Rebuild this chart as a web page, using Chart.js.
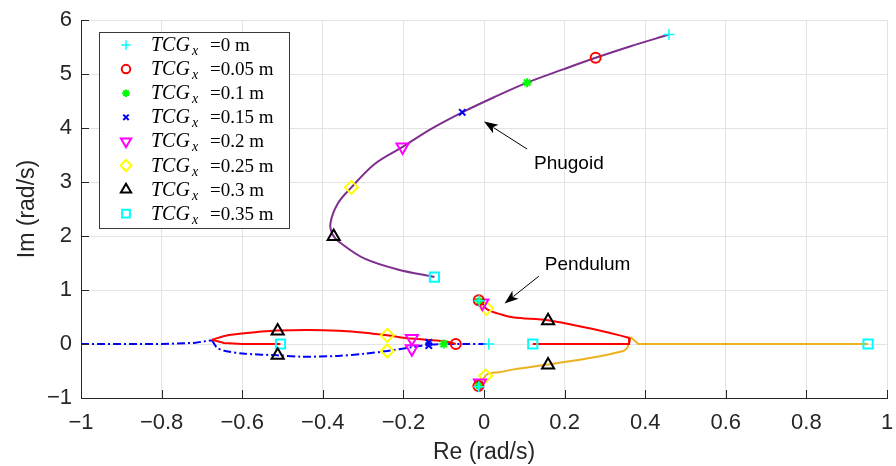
<!DOCTYPE html>
<html>
<head>
<meta charset="utf-8">
<script src="https://cdn.jsdelivr.net/npm/chart.js@4.4.0/dist/chart.umd.min.js"></script>
<style>
  html, body { margin: 0; padding: 0; background: #fff; }
  #wrap { width: 896px; height: 466px; position: relative; }
</style>
</head>
<body>
<div id="wrap"><canvas id="rootLocus"></canvas></div>
<script>
// TCG_x values shown in the legend
const tcgValues = ['0', '0.05', '0.1', '0.15', '0.2', '0.25', '0.3', '0.35'];

// poles marked for each TCG_x  [Re, Im]
const polesTcg000 = [[0.459, 5.73], [0.012, 0], [-0.012, 0.80], [-0.013, -0.79]];
const polesTcg005 = [[0.277, 5.30], [-0.070, 0], [-0.013, 0.81], [-0.014, -0.78]];
const polesTcg010 = [[0.107, 4.84], [-0.100, 0], [-0.011, 0.79], [-0.012, -0.77]];
const polesTcg015 = [[-0.054, 4.29], [-0.137, 0.03], [-0.137, -0.03], [-0.009, 0.78], [-0.011, -0.76]];
const polesTcg020 = [[-0.202, 3.65], [-0.179, 0.10], [-0.179, -0.09], [-0.004, 0.76], [-0.010, -0.72]];
const polesTcg025 = [[-0.329, 2.90], [-0.240, 0.16], [-0.240, -0.13], [0.006, 0.66], [0.004, -0.59]];
const polesTcg030 = [[-0.373, 1.99], [-0.512, 0.24], [-0.512, -0.21], [0.159, 0.43], [0.159, -0.39]];
const polesTcg035 = [[-0.123, 1.24], [-0.505, 0], [0.121, 0], [0.953, 0]];

// locus branches
const phugoid = [[0.459, 5.73], [0.362, 5.51], [0.277, 5.30], [0.198, 5.09], [0.107, 4.84], [0.025, 4.57],
  [-0.054, 4.29], [-0.132, 3.98], [-0.202, 3.65], [-0.272, 3.33], [-0.329, 2.90], [-0.362, 2.61],
  [-0.381, 2.24], [-0.375, 2.02], [-0.354, 1.86], [-0.296, 1.58], [-0.214, 1.38], [-0.123, 1.24]];
const redLeftArc = [[-0.070, 0], [-0.099, 0.05], [-0.181, 0.10], [-0.240, 0.16], [-0.296, 0.21],
  [-0.360, 0.245], [-0.436, 0.26], [-0.512, 0.25], [-0.552, 0.23], [-0.633, 0.165], [-0.675, 0.08]];
const redLeftReal = [[-0.675, 0.08], [-0.645, 0.02], [-0.600, 0], [-0.505, 0]];
const blueReal = [[-1, 0], [-0.80, 0], [-0.72, 0.02], [-0.675, 0.07]];
const blueArc = [[-0.675, 0.07], [-0.662, -0.07], [-0.642, -0.13], [-0.593, -0.18], [-0.512, -0.21],
  [-0.453, -0.235], [-0.362, -0.22], [-0.296, -0.18], [-0.240, -0.13], [-0.181, -0.06],
  [-0.132, -0.01], [-0.050, 0], [0.011, 0]];
const redPendArc = [[-0.012, 0.80], [0.008, 0.64], [0.041, 0.55], [0.074, 0.49], [0.159, 0.44],
  [0.255, 0.30], [0.337, 0.16], [0.362, 0.11]];
const redPendReal = [[0.362, 0.11], [0.360, 0], [0.121, 0]];
const orangePendArc = [[-0.013, -0.79], [0.008, -0.56], [0.041, -0.52], [0.074, -0.47], [0.159, -0.38],
  [0.255, -0.27], [0.346, -0.13], [0.356, -0.07]];
const orangePendReal = [[0.356, -0.07], [0.362, 0.10], [0.365, 0.12], [0.383, 0], [0.953, 0]];

// annotation anchors in data units
const phugoidArrow = { from: [0.107, 3.61], to: [0.0, 4.12], text: 'Phugoid', at: [0.124, 3.34] };
const pendulumArrow = { from: [0.136, 1.255], to: [0.051, 0.75], text: 'Pendulum', at: [0.151, 1.47] };

const poleSets = [polesTcg000, polesTcg005, polesTcg010, polesTcg015, polesTcg020, polesTcg025, polesTcg030, polesTcg035];

const markers = [
  { style: 'cross', color: '#00ffff', r: 5.5, w: 1.5 },
  { style: 'circle', color: '#ff0000', r: 5, w: 2 },
  { style: 'star', color: '#00ff00', r: 4.5, w: 2 },
  { style: 'crossRot', color: '#0000ff', r: 4.5, w: 2 },
  { style: 'triangle', color: '#ff00ff', r: 7, w: 2, rot: 180 },
  { style: 'rectRot', color: '#ffff00', r: 6.5, w: 2 },
  { style: 'triangle', color: '#000000', r: 7, w: 2 },
  { style: 'rect', color: '#00ffff', r: 6.5, w: 2 }
];

const sansFont = '"Liberation Sans", Arial, Helvetica, sans-serif';
const serifFont = '"Liberation Serif", "Times New Roman", serif';
const axisColor = '#262626';

const toXY = pts => pts.map(p => ({ x: p[0], y: p[1] }));

function branch(pts, color, tension, dash) {
  return {
    data: toXY(pts),
    showLine: true,
    pointRadius: 0,
    borderColor: color,
    borderWidth: 2,
    borderDash: dash || [],
    tension: tension,
    fill: false,
    order: 1
  };
}

const datasets = poleSets.map((pts, i) => ({
  label: 'TCG_x =' + tcgValues[i] + ' m',
  data: toXY(pts),
  showLine: false,
  pointStyle: markers[i].style,
  pointRadius: markers[i].r,
  pointRotation: markers[i].rot || 0,
  pointBorderColor: markers[i].color,
  pointBackgroundColor: 'rgba(0,0,0,0)',
  pointBorderWidth: markers[i].w,
  order: 0
}));

const dashDot = [8, 3, 2, 3];
datasets.push(
  branch(phugoid, '#7e2f8e', 0.35),
  branch(redLeftArc, '#ff0000', 0.3),
  branch(redLeftReal, '#ff0000', 0),
  branch(blueReal, '#0000ff', 0, dashDot),
  branch(blueArc, '#0000ff', 0.3, dashDot),
  branch(redPendArc, '#ff0000', 0.3),
  branch(redPendReal, '#ff0000', 0),
  branch(orangePendArc, '#edb120', 0.3),
  branch(orangePendReal, '#edb120', 0)
);

function fmtTick(v) {
  return (Math.round(v * 10) / 10).toString().replace('-', '\u2212');
}

function arrow(ctx, x1, y1, x2, y2) {
  const a = Math.atan2(y2 - y1, x2 - x1);
  const len = 14, half = 5;
  ctx.beginPath();
  ctx.moveTo(x1, y1);
  ctx.lineTo(x2 - Math.cos(a) * len * 0.8, y2 - Math.sin(a) * len * 0.8);
  ctx.stroke();
  ctx.beginPath();
  ctx.moveTo(x2, y2);
  ctx.lineTo(x2 - Math.cos(a) * len + Math.sin(a) * half, y2 - Math.sin(a) * len - Math.cos(a) * half);
  ctx.lineTo(x2 - Math.cos(a) * len * 0.75, y2 - Math.sin(a) * len * 0.75);
  ctx.lineTo(x2 - Math.cos(a) * len - Math.sin(a) * half, y2 - Math.sin(a) * len + Math.cos(a) * half);
  ctx.closePath();
  ctx.fill();
}

const extras = {
  id: 'extras',
  afterDraw(chart) {
    const ctx = chart.ctx;
    const xs = chart.scales.x, ys = chart.scales.y;
    const area = chart.chartArea;
    ctx.save();

    // inward ticks (matlab style)
    ctx.strokeStyle = axisColor;
    ctx.lineWidth = 1;
    ctx.beginPath();
    xs.ticks.forEach(t => {
      const px = Math.round(xs.getPixelForValue(t.value)) + 0.5;
      ctx.moveTo(px, area.bottom);
      ctx.lineTo(px, area.bottom - 8);
    });
    ys.ticks.forEach(t => {
      const py = Math.round(ys.getPixelForValue(t.value)) + 0.5;
      ctx.moveTo(area.left, py);
      ctx.lineTo(area.left + 8, py);
    });
    ctx.stroke();

    // annotations
    ctx.strokeStyle = '#000';
    ctx.fillStyle = '#000';
    ctx.lineWidth = 1;
    [phugoidArrow, pendulumArrow].forEach(an => {
      arrow(ctx,
        xs.getPixelForValue(an.from[0]), ys.getPixelForValue(an.from[1]),
        xs.getPixelForValue(an.to[0]), ys.getPixelForValue(an.to[1]));
      ctx.font = '19px ' + sansFont;
      ctx.textBaseline = 'middle';
      ctx.textAlign = 'left';
      ctx.fillText(an.text, xs.getPixelForValue(an.at[0]), ys.getPixelForValue(an.at[1]));
    });

    // legend
    const bx = 99.5, by = 32.5, bw = 190, bh = 196;
    ctx.fillStyle = '#fff';
    ctx.fillRect(bx, by, bw, bh);
    ctx.strokeStyle = '#3a3a3a';
    ctx.strokeRect(bx, by, bw, bh);
    tcgValues.forEach((val, i) => {
      const cy = 45 + i * 24.1;
      const m = markers[i];
      ctx.strokeStyle = m.color;
      ctx.fillStyle = 'rgba(0,0,0,0)';
      ctx.lineWidth = m.w;
      Chart.helpers.drawPoint(ctx, { pointStyle: m.style, radius: m.r * 0.85, rotation: m.rot || 0, borderWidth: m.w }, 126, cy);
      ctx.fillStyle = '#000';
      ctx.textBaseline = 'alphabetic';
      ctx.textAlign = 'left';
      const base = cy + 6;
      ctx.font = 'italic 20px ' + serifFont;
      ctx.fillText('TCG', 151, base);
      const subX = 151 + ctx.measureText('TCG').width + 2;
      ctx.font = 'italic 14px ' + serifFont;
      ctx.fillText('x', subX, base + 4);
      ctx.font = '19px ' + serifFont;
      ctx.fillText('=' + val + ' m', 210, base);
    });
    ctx.restore();
  }
};

new Chart(document.getElementById('rootLocus'), {
  type: 'scatter',
  data: { datasets: datasets },
  options: {
    responsive: true,
    maintainAspectRatio: false,
    animation: false,
    devicePixelRatio: 1,
    layout: { padding: { top: 20, right: 5, left: 0, bottom: 0 } },
    plugins: { legend: { display: false }, tooltip: { enabled: false } },
    scales: {
      x: {
        type: 'linear', min: -1, max: 1,
        ticks: { stepSize: 0.2, color: axisColor, font: { family: sansFont, size: 22 }, padding: 12, maxRotation: 0, autoSkip: false, callback: fmtTick },
        grid: { color: '#e3e3e3', drawTicks: false },
        border: { display: true, color: axisColor, width: 1 },
        title: { display: true, text: 'Re (rad/s)', color: axisColor, font: { family: sansFont, size: 23 }, padding: { top: 0, bottom: 0 } },
        afterFit: s => { s.height = 68; s.paddingLeft = 0; s.paddingRight = 0; }
      },
      y: {
        type: 'linear', min: -1, max: 6,
        ticks: { stepSize: 1, color: axisColor, font: { family: sansFont, size: 22 }, padding: 9, callback: fmtTick },
        grid: { color: '#e3e3e3', drawTicks: false },
        border: { display: true, color: axisColor, width: 1 },
        title: { display: true, text: 'Im (rad/s)', color: axisColor, font: { family: sansFont, size: 23 }, padding: { top: 14, bottom: 0 } },
        afterFit: s => { s.width = 81; s.paddingTop = 0; s.paddingBottom = 0; }
      }
    }
  },
  plugins: [extras]
});
</script>
</body>
</html>
